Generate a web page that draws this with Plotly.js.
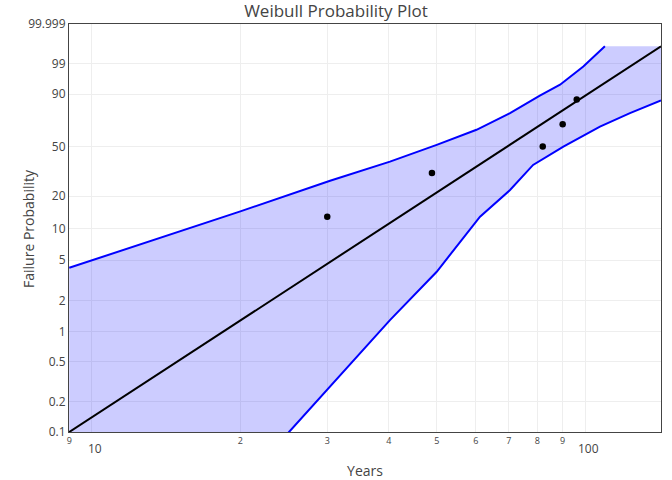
<!DOCTYPE html>
<html>
<head>
<meta charset="utf-8">
<script src="https://cdn.plot.ly/plotly-3.0.1.min.js"></script>
<style>html,body{margin:0;padding:0;background:#fff}#chart{width:672px;height:480px}</style>
</head>
<body>
<div id="chart"></div>
<script>
// ---- data ----
var failYears = [30.0, 48.9, 82.0, 90.0, 96.1];
var failProb  = [12.96, 31.48, 50.0, 68.52, 87.04];   // percent

var fitYears = [9, 142.4];
var fitProb  = [0.1, 99.9];

var upperYears = [9, 20, 30.4, 40.2, 50, 60.2, 70.4, 80.9, 88.9, 99.1, 109.6];
var upperProb  = [4.22, 14.54, 27.2, 38.8, 51.4, 63.9, 77.5, 89.3, 94.3, 98.7, 99.9];

var lowerYears = [9, 25.1, 40.2, 50, 61.2, 70.4, 78.4, 90.3, 107.1, 123.2, 142.4];
var lowerProb  = [0.0004, 0.1, 1.29, 3.86, 13.0, 22.6, 36.6, 50.0, 66.6, 77.5, 86.4];

var capProb = 99.9;               // upper band capped at this value
var yearRange = [8.99, 142.4];
var probRange = [0.1, 99.999];

var probTicks = [0.1, 0.2, 0.5, 1, 2, 5, 10, 20, 50, 90, 99, 99.999];
var probTickText = ['0.1','0.2','0.5','1','2','5','10','20','50','90','99','99.999'];

// Weibull probability-paper transform
function tr(p) { return Math.log(-Math.log(1 - p / 100)); }
function trA(a) { return a.map(tr); }

// band polygon
var bandX = upperYears.concat([yearRange[1]]).concat(lowerYears.slice().reverse());
var bandY = trA(upperProb).concat([tr(capProb)]).concat(trA(lowerProb).reverse());

var traces = [
  {x: bandX, y: bandY, mode: 'lines', fill: 'toself', fillcolor: 'rgba(0,0,255,0.2)',
   line: {width: 0, color: 'rgba(0,0,255,0)'}, hoverinfo: 'skip'},
  {x: upperYears, y: trA(upperProb), mode: 'lines', line: {color: 'blue', width: 2}},
  {x: lowerYears, y: trA(lowerProb), mode: 'lines', line: {color: 'blue', width: 2}},
  {x: fitYears, y: trA(fitProb), mode: 'lines', line: {color: 'black', width: 2}},
  {x: failYears, y: trA(failProb), mode: 'markers', marker: {color: 'black', size: 6.5}}
];

var layout = {
  width: 672, height: 480,
  margin: {l: 69, r: 11, t: 24, b: 48},
  showlegend: false,
  paper_bgcolor: '#fff', plot_bgcolor: '#fff',
  font: {family: '"Open Sans", verdana, arial, sans-serif', color: '#444', size: 12},
  title: {text: 'Weibull Probability Plot', font: {size: 17}, x: 0.5, xanchor: 'center', y: 0.977, yanchor: 'middle'},
  xaxis: {
    type: 'log', range: [Math.log10(yearRange[0]), Math.log10(yearRange[1])],
    dtick: 'D1', showline: true, mirror: true, linecolor: '#444', linewidth: 1,
    gridcolor: '#eee', zeroline: false, ticks: '',
    title: {text: 'Years', font: {size: 14}}
  },
  yaxis: {
    range: [tr(probRange[0]), tr(probRange[1])],
    tickmode: 'array', tickvals: trA(probTicks), ticktext: probTickText,
    showline: true, mirror: true, linecolor: '#444', linewidth: 1,
    gridcolor: '#eee', zeroline: false, ticks: ''
  },
  annotations: [{
    text: 'Failure Probability', textangle: -90, showarrow: false,
    xref: 'paper', yref: 'paper', x: -0.0693, y: 0.5, xanchor: 'center', yanchor: 'middle',
    font: {size: 14, color: '#444'}
  }]
};

Plotly.newPlot('chart', traces, layout, {displayModeBar: false, staticPlot: true});
</script>
</body>
</html>
